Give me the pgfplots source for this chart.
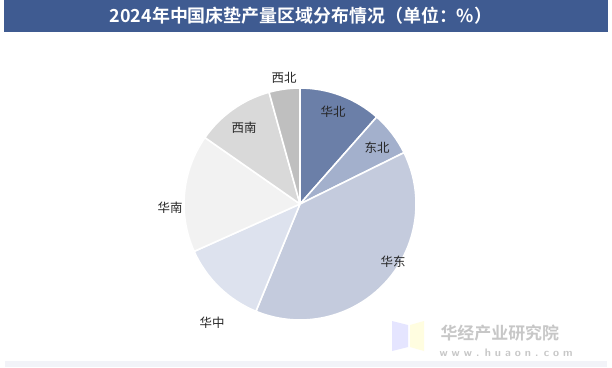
\documentclass[border=0pt]{standalone}
\usepackage{pgfplots}
\pgfplotsset{compat=1.18}
\usepackage{fontspec}
\newfontfamily\cjk{Noto Sans CJK SC}
\newfontfamily\cjkb{Noto Sans CJK SC Bold}
\setmainfont{Liberation Serif}
\definecolor{titlebar}{HTML}{3F5B91}
\definecolor{cHB}{HTML}{6B7FA8}
\definecolor{cDB}{HTML}{A3B0CC}
\definecolor{cHD}{HTML}{C4CBDD}
\definecolor{cHZ}{HTML}{DDE2EE}
\definecolor{cHN}{HTML}{F2F2F2}
\definecolor{cXN}{HTML}{D9D9D9}
\definecolor{cXB}{HTML}{BFBFBF}
\definecolor{band}{HTML}{F2F3F8}
\begin{document}
\begin{tikzpicture}[x=1bp,y=1bp]
\path[use as bounding box] (0,0) rectangle (612,367);
\fill[white] (0,0) rectangle (612,367);
% title bar
\fill[titlebar] (4,335) rectangle (608,367);
\node[text=white, font=\cjkb\fontsize{18}{20}\selectfont] at (301,351) {2024年中国床垫产量区域分布情况（单位：\%）};
% bottom band
\fill[band] (5,0) rectangle (607,6);
% watermark
\node[text=black!22, font=\cjkb\fontsize{17}{19}\selectfont, anchor=west] at (437,34) {华经产业研究院};
\node[text=black!22, font=\sffamily\bfseries\fontsize{11}{12}\selectfont, anchor=west] at (436,14) {w w w . h u a o n . c o m};
\fill[blue!10] (392,16) -- (408,20) -- (408,42) -- (392,46) -- cycle;
\fill[yellow!12] (410,20) -- (424,16) -- (424,46) -- (410,42) -- cycle;
\begin{axis}[
  x=1bp, y=1bp,
  xmin=-300, xmax=312, ymin=-163, ymax=204,
  at={(0,0)}, anchor=south west,
  hide axis, clip=false,
]
% values (%), clockwise from 12 o'clock
\def\R{116}
\pgfmathsetmacro{\a}{90}
\foreach \v/\c in {11.5/cHB, 6.2/cDB, 38.5/cHD, 12.1/cHZ, 16.4/cHN, 11.0/cXN, 4.3/cXB}{
  \pgfmathsetmacro{\b}{\a-3.6*\v}
  \edef\doit{\noexpand\fill[\c, draw=white, line width=1.6pt, line join=round]
    (axis cs:0,0) -- (axis cs:{\R*cos(\a)},{\R*sin(\a)}) arc[start angle=\a, end angle=\b, radius=\R] -- cycle;}
  \doit
  \global\let\a\b
}
\addplot[only marks, mark=none, nodes near coords, point meta=explicit symbolic,
  nodes near coords style={font=\cjk\fontsize{12.5}{14}\selectfont, text=black!85, anchor=center}]
  table[meta=label] {
x y label
33 92 华北
77 56 东北
93 -58 华东
-88 -119 华中
-130 -4 华南
-56 76 西南
-16 126 西北
};
\end{axis}
\end{tikzpicture}
\end{document}
